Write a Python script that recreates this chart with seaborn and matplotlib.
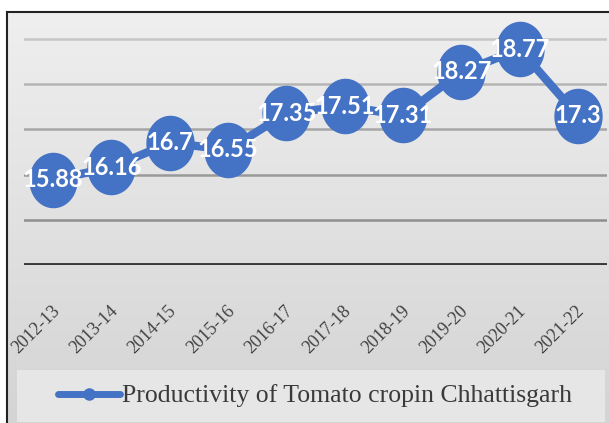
import numpy as np
import pandas as pd
import matplotlib.pyplot as plt
import matplotlib.transforms as mtransforms
from matplotlib.lines import Line2D
from matplotlib.patches import Rectangle
from matplotlib.path import Path
import seaborn as sns

# data
years = ['2012-13', '2013-14', '2014-15', '2015-16', '2016-17',
         '2017-18', '2018-19', '2019-20', '2020-21', '2021-22']
productivity = [15.88, 16.16, 16.7, 16.55, 17.35, 17.51, 17.31, 18.27, 18.77, 17.3]
series_name = 'Productivity of Tomato cropin Chhattisgarh'

df = pd.DataFrame({'Year': years, 'Productivity': productivity})

sns.set_style("white")
blue = '#4472C4'
W, H = 609, 423

# slightly tall ellipse marker (the original image is stretched vertically)
t = np.linspace(0, 2 * np.pi, 60)
oval = Path(np.column_stack([np.cos(t), 1.15 * np.sin(t)]), closed=True)

fig = plt.figure(figsize=(W / 100, H / 100), dpi=100)
fig.patch.set_facecolor('white')

# gray gradient chart area with frame on left/top
bg = fig.add_axes([7 / W, 0, 1 - 7 / W + 0.01, 1 - 12 / H], zorder=0)
shade = np.linspace(239, 212, 256)[:, None] / 255.0
img = np.dstack([shade, shade, shade])
bg.imshow(img, aspect='auto', extent=[0, 1, 0, 1], interpolation='bilinear')
bg.set_xlim(0, 1)
bg.set_ylim(0, 1)
bg.set_xticks([])
bg.set_yticks([])
for side in ['right', 'bottom']:
    bg.spines[side].set_visible(False)
for side in ['left', 'top']:
    bg.spines[side].set_color('#222222')
    bg.spines[side].set_linewidth(1.5)

# legend box
fig.patches.append(Rectangle((17 / W, 1 / H), 588 / W, 52 / H, transform=fig.transFigure,
                             facecolor='#e6e6e6', edgecolor='none', zorder=1))

ax = fig.add_axes([24 / W, (H - 265) / H, (607 - 24) / W, (265 - 14) / H], zorder=2)
ax.patch.set_alpha(0)

# gridlines get darker towards the bottom
grid_vals = [15, 16, 17, 18, 19]
grid_cols = ['#8e8e8e', '#999999', '#a6a6a6', '#b5b5b5', '#c6c6c6']
for g, c in zip(grid_vals, grid_cols):
    ax.axhline(g, color=c, linewidth=1.8, zorder=0)
ax.axhline(14, color='#3a3a3a', linewidth=2.8, zorder=0)

sns.lineplot(data=df, x='Year', y='Productivity', sort=False, color=blue,
             linewidth=6, marker=oval, markersize=40, markeredgewidth=0,
             legend=False, ax=ax)

for i, v in enumerate(productivity):
    ax.text(i, v, str(v), ha='center', va='center', color='white',
            fontsize=17, fontweight='bold', family='Lato', zorder=5)

ax.set_xlim(-0.5, len(years) - 0.5)
ax.set_ylim(14, 19.55)
ax.set_yticks([])
for s in ax.spines.values():
    s.set_visible(False)
ax.set_xlabel('')
ax.set_ylabel('')

ax.set_xticks(range(len(years)))
ax.set_xticklabels(years, rotation=45, ha='right', fontsize=13,
                   family='Liberation Serif', color='#404040')
ax.tick_params(axis='x', length=0, pad=27)
shift = mtransforms.ScaledTranslation(0.1, 0, fig.dpi_scale_trans)
for lab in ax.get_xticklabels():
    lab.set_transform(lab.get_transform() + shift)

handle = Line2D([0], [0], color=blue, linewidth=5, marker='o', markersize=8)
fig.legend(handles=[handle], labels=[series_name], loc='center',
           bbox_to_anchor=(315 / W, 1 - 396 / H), frameon=False,
           prop={'family': 'Liberation Serif', 'size': 18.5}, labelcolor='#3a3a3a',
           handlelength=2.4, handletextpad=0.1)

fig.savefig('out.png', dpi=100)
